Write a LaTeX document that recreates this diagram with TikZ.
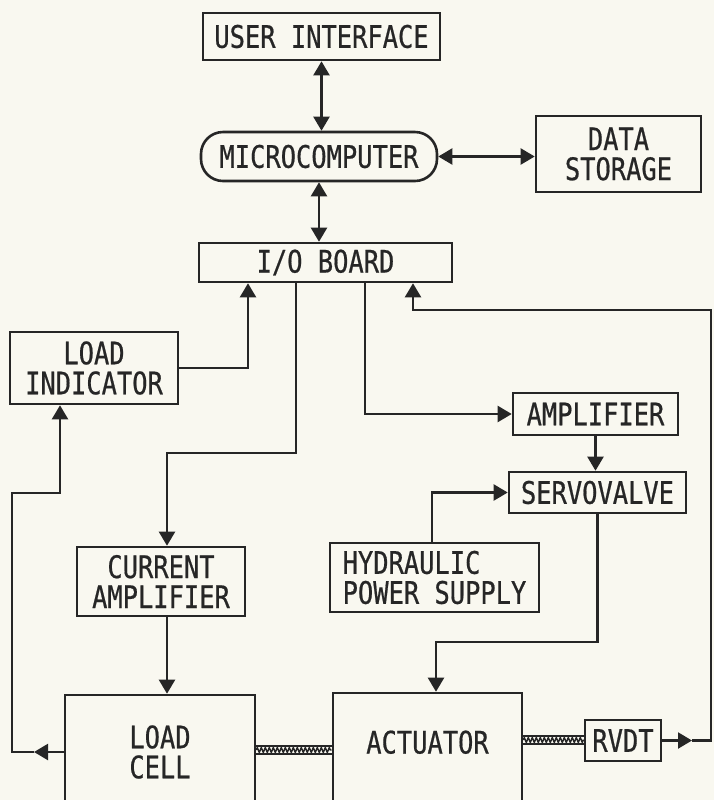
\documentclass[tikz,border=0pt]{standalone}
\usepackage{fontspec}
\newfontfamily\dotfont[FakeStretch=0.82, FakeBold=0.6]{DejaVu Sans Mono}
\usetikzlibrary{positioning,arrows.meta,decorations.pathmorphing}
\definecolor{paper}{RGB}{249,248,240}
\definecolor{ink}{RGB}{38,38,38}

\begin{document}
\begin{tikzpicture}[
  x=0.5pt, y=-0.5pt,
  font=\dotfont\fontsize{15.5}{15}\selectfont,
  block/.style={draw=ink, line width=1.3pt, rectangle, inner sep=0pt, align=center, text=ink},
  cpu/.style={block, rounded corners=11pt},
  sig/.style={draw=ink, line width=1.1pt, -{Triangle[length=7pt,width=8pt]}},
  bisig/.style={sig, {Triangle[length=7pt,width=8pt]}-{Triangle[length=7pt,width=8pt]}},
  rodbar/.style={draw=ink, line width=1.1pt, double=paper, double distance=3.2pt},
  rodwave/.style={draw=ink, line width=0.7pt, decorate,
    decoration={zigzag, segment length=2pt, amplitude=1.3pt}}
]

  \useasboundingbox (0,0) rectangle (714,800);
  \clip (0,0) rectangle (714,800);
  \fill[paper] (0,0) rectangle (714,800);

  % computer side
  \node[block, minimum width=118.5pt, minimum height=23.5pt] (ui) at (321.5,36.5) {USER INTERFACE};
  \node[cpu, minimum width=118pt, minimum height=24.5pt] (micro) at (319,156.5) {MICROCOMPUTER};
  \node[block, minimum width=82.5pt, minimum height=38pt] (store) at (618.5,154) {DATA\\STORAGE};
  \node[block, minimum width=126.5pt, minimum height=19.5pt] (io) at (325.5,262.5) {I/O BOARD};

  % rig side
  \node[block, minimum width=84pt, minimum height=36pt] (loadind) at (94,368) {LOAD\\INDICATOR};
  \node[block, minimum width=82.5pt, minimum height=21pt] (amp) at (595.5,414) {AMPLIFIER};
  \node[block, minimum width=88.5pt, minimum height=20.5pt] (servo) at (597.5,492.5) {SERVOVALVE};
  \node[block, align=left, minimum width=104.5pt, minimum height=34.5pt] (hyd) at (434.5,577.5) {HYDRAULIC\\POWER SUPPLY};
  \node[block, minimum width=84pt, minimum height=34.5pt] (curamp) at (161,581.5) {CURRENT\\AMPLIFIER};
  \node[block, minimum width=95pt, minimum height=57pt] (lcell) at (160,752) {LOAD\\CELL};
  \node[block, minimum width=94.5pt, minimum height=65pt, text depth=16pt] (act) at (427.5,758) {ACTUATOR};
  \node[block, minimum width=38pt, minimum height=20.5pt] (rvdt) at (623,740.5) {RVDT};

  \draw[bisig] (ui.south) -- (ui.south |- micro.north);
  \draw[bisig] (micro.east) -- (micro.east -| store.west);
  \draw[bisig] (micro.south) -- (micro.south |- io.north);

  \draw[sig] (loadind.east) -| (248,0 |- io.south);
  \draw[sig] (296,0 |- io.south) |- (167,453) -- (167,0 |- curamp.north);
  \draw[sig] (365,0 |- io.south) |- (amp.west);
  \draw[sig] (amp.south) -- (amp.south |- servo.north);
  \draw[sig] (432,0 |- hyd.north) |- (servo.west);
  \draw[sig] (servo.south) |- (436,642) -- (436,0 |- act.north);
  \draw[sig] (167,0 |- curamp.south) -- (167,0 |- lcell.north);

  % feedback lines
  \draw[sig] (lcell.west) -- (34,0 |- lcell.west);
  \draw[sig] (34,0 |- lcell.west) -- (12,0 |- lcell.west) |- (60,493) -- (60,0 |- loadind.south);
  \draw[sig] (rvdt.east) -- (692,0 |- rvdt.east);
  \draw[sig] (692,0 |- rvdt.east) -- (711,0 |- rvdt.east) |- (413,310) -- (413,0 |- io.south);

  % mechanical links
  \draw[rodbar] (lcell.east |- 0,750) -- (act.west |- 0,750);
  \draw[rodwave] (lcell.east |- 0,750) -- (act.west |- 0,750);
  \draw[rodbar] (act.east |- 0,740) -- (rvdt.west |- 0,740);
  \draw[rodwave] (act.east |- 0,740) -- (rvdt.west |- 0,740);

\end{tikzpicture}
\end{document}
